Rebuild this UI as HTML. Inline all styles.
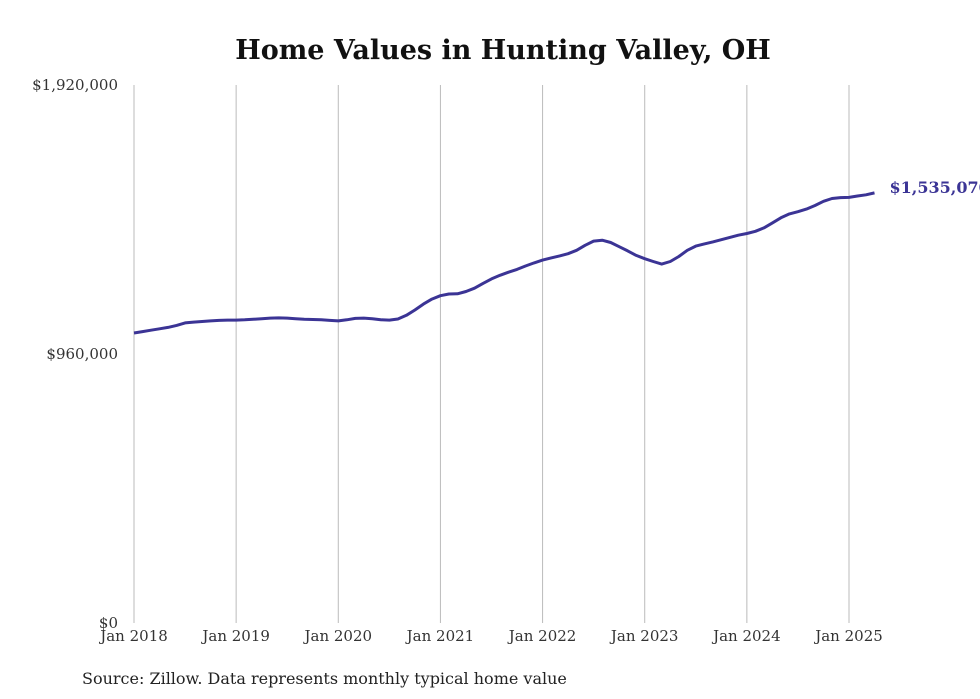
<!DOCTYPE html>
<html><head><meta charset="utf-8"><style>
body{margin:0;background:#fff;}
svg{display:block;font-family:"DejaVu Serif","Liberation Serif",serif;}
</style></head><body>
<svg id="chart" width="980" height="699" viewBox="0 0 980 699">
<text x="503" y="59" text-anchor="middle" font-size="27" font-weight="bold" fill="#111">Home Values in Hunting Valley, OH</text>
<g id="grid"></g><g id="yticks"></g><g id="xticks"></g><g id="series"></g>
<text x="82" y="684" font-size="16" fill="#222">Source: Zillow. Data represents monthly typical home value</text>
</svg>
<script>
const yTickValues=[0,960000,1920000];
const yTickLabels=["$0","$960,000","$1,920,000"];
const xTickYears=[2018,2019,2020,2021,2022,2023,2024,2025];
const xTickLabels=["Jan 2018","Jan 2019","Jan 2020","Jan 2021","Jan 2022","Jan 2023","Jan 2024","Jan 2025"];
const startYear=2018;
const values=[1035,1040,1045,1050,1055,1062,1071,1074,1076,1078,1080,1081,
1081,1082,1084,1086,1088,1089,1088,1086,1084,1083,1082,1080,
1078,1082,1087,1088,1086,1082,1081,1085,1098,1117,1138,1156,
1168,1174,1175,1183,1195,1212,1228,1241,1252,1262,1274,1285,
1295,1303,1310,1318,1330,1348,1363,1366,1358,1343,1328,1312,
1300,1290,1281,1290,1308,1330,1345,1353,1360,1368,1376,1384,
1390,1398,1410,1428,1446,1460,1468,1477,1490,1505,1515,1518,
1519,1524,1528,1535.07].map(v=>v*1000);
const lastLabel="$1,535,070";
const NS="http://www.w3.org/2000/svg";
const y=v=>623-v/1920000*538;
const x=m=>134+m*(715/84);
function mk(tag,attrs,parent){const e=document.createElementNS(NS,tag);for(const k in attrs)e.setAttribute(k,attrs[k]);parent.appendChild(e);return e;}
const grid=document.getElementById('grid'),yt=document.getElementById('yticks'),xt=document.getElementById('xticks'),ser=document.getElementById('series');
xTickYears.forEach((yr,i)=>{const xx=x((yr-startYear)*12);
const l=mk('line',{x1:xx,x2:xx,y1:85,y2:623,stroke:'#bbb','stroke-width':1},grid);


const t=mk('text',{x:xx,y:641,'text-anchor':'middle','font-size':15,fill:'#333'},xt);t.textContent=xTickLabels[i];

});
yTickValues.forEach((v,i)=>{const t=mk('text',{x:118,y:y(v)+5,'text-anchor':'end','font-size':15,fill:'#333'},yt);t.textContent=yTickLabels[i];

});
const p=mk('path',{d:values.map((v,i)=>(i?'L':'M')+x(i).toFixed(1)+','+y(v).toFixed(1)).join(''),fill:'none',stroke:'#3b3495','stroke-width':3,'stroke-linejoin':'round'},ser);


const li=values.length-1;
const lb=mk('text',{x:x(li)+15,y:y(values[li])+0,'font-size':16,'font-weight':'bold',fill:'#3b3495'},ser);lb.textContent=lastLabel;


</script>
</body></html>
